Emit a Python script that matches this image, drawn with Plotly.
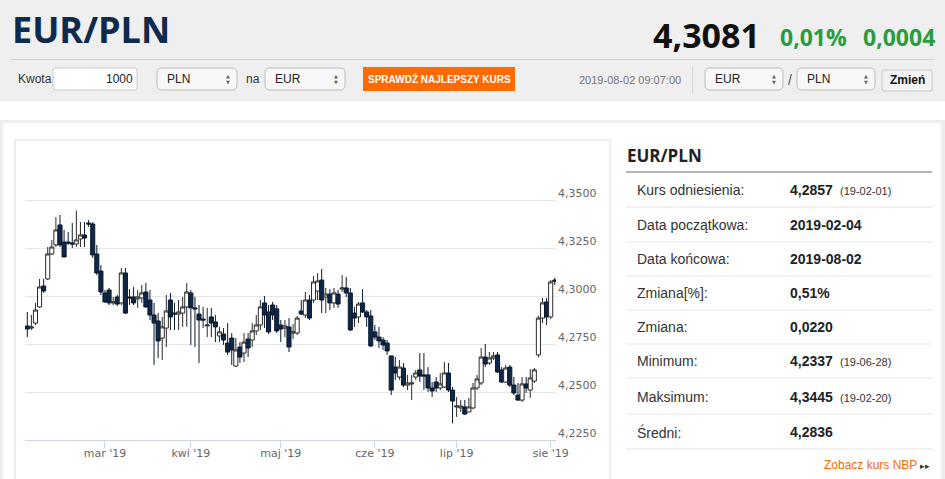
import pandas as pd
import plotly.graph_objects as go

# trading days on the chart: Mon-Fri from 2019-02-04 to 2019-08-02
dates = pd.bdate_range("2019-02-04", "2019-08-02").strftime("%Y-%m-%d").tolist()

open_ = [4.2844, 4.2833, 4.2859, 4.2943, 4.3052, 4.3089, 4.3219, 4.3266, 4.3370, 4.3281,
         4.3281, 4.3276, 4.3271, 4.3297, 4.3318, 4.3380, 4.3375, 4.3219, 4.3130, 4.3016,
         4.3031, 4.2964, 4.2995, 4.2964, 4.3120, 4.2995, 4.2995, 4.2985, 4.2990, 4.3021,
         4.2979, 4.2901, 4.2870, 4.2781, 4.2833, 4.2979, 4.2911, 4.2906, 4.2911, 4.2943,
         4.3016, 4.2938, 4.2906, 4.2880, 4.2844, 4.2891, 4.2865, 4.2792, 4.2802, 4.2755,
         4.2781, 4.2635, 4.2734, 4.2703, 4.2776, 4.2771, 4.2818, 4.2849, 4.2964, 4.2917,
         4.2953, 4.2933, 4.2849, 4.2833, 4.2839, 4.2807, 4.2807, 4.2922, 4.2901, 4.2979,
         4.2979, 4.3026, 4.3083, 4.2995, 4.3010, 4.2964, 4.3010, 4.3036, 4.3042, 4.3016,
         4.2911, 4.2891, 4.2964, 4.2917, 4.2896, 4.2813, 4.2786, 4.2771, 4.2755, 4.2688,
         4.2630, 4.2578, 4.2625, 4.2536, 4.2542, 4.2578, 4.2615, 4.2589, 4.2589, 4.2521,
         4.2552, 4.2521, 4.2526, 4.2599, 4.2510, 4.2422, 4.2417, 4.2422, 4.2396, 4.2417,
         4.2521, 4.2547, 4.2682, 4.2651, 4.2677, 4.2693, 4.2615, 4.2552, 4.2630, 4.2536,
         4.2484, 4.2458, 4.2542, 4.2510, 4.2557, 4.2693, 4.2885, 4.2969, 4.2891, 4.3083]
high = [4.2917, 4.2901, 4.2964, 4.3089, 4.3089, 4.3255, 4.3292, 4.3411, 4.3422, 4.3344,
        4.3333, 4.3380, 4.3445, 4.3385, 4.3385, 4.3396, 4.3385, 4.3266, 4.3161, 4.3031,
        4.3042, 4.2995, 4.3005, 4.3146, 4.3146, 4.3036, 4.3047, 4.3031, 4.3057, 4.3068,
        4.3031, 4.2964, 4.2911, 4.2891, 4.3005, 4.3016, 4.2964, 4.2979, 4.2995, 4.3068,
        4.3031, 4.2995, 4.2953, 4.2943, 4.2938, 4.2938, 4.2901, 4.2839, 4.2833, 4.2859,
        4.2807, 4.2781, 4.2760, 4.2807, 4.2807, 4.2859, 4.2901, 4.2979, 4.3000, 4.2953,
        4.2969, 4.2953, 4.2875, 4.2875, 4.2885, 4.2854, 4.2896, 4.2979, 4.3021, 4.3005,
        4.3104, 4.3120, 4.3141, 4.3042, 4.3036, 4.3042, 4.3031, 4.3109, 4.3099, 4.3042,
        4.2943, 4.2969, 4.3036, 4.2927, 4.2927, 4.2849, 4.2839, 4.2786, 4.2771, 4.2688,
        4.2682, 4.2667, 4.2651, 4.2589, 4.2589, 4.2615, 4.2703, 4.2703, 4.2630, 4.2552,
        4.2578, 4.2599, 4.2656, 4.2651, 4.2526, 4.2474, 4.2458, 4.2458, 4.2469, 4.2547,
        4.2589, 4.2729, 4.2750, 4.2708, 4.2708, 4.2708, 4.2630, 4.2641, 4.2641, 4.2578,
        4.2547, 4.2578, 4.2578, 4.2620, 4.2625, 4.2896, 4.2990, 4.2990, 4.3083, 4.3094]
low = [4.2786, 4.2823, 4.2849, 4.2938, 4.3016, 4.3083, 4.3214, 4.3255, 4.3255, 4.3203,
       4.3266, 4.3250, 4.3255, 4.3255, 4.3255, 4.3360, 4.3198, 4.3109, 4.3005, 4.2964,
       4.2953, 4.2953, 4.2948, 4.2953, 4.2906, 4.2953, 4.2953, 4.2938, 4.2964, 4.2938,
       4.2875, 4.2641, 4.2677, 4.2667, 4.2734, 4.2823, 4.2823, 4.2823, 4.2839, 4.2839,
       4.2745, 4.2734, 4.2651, 4.2833, 4.2786, 4.2786, 4.2760, 4.2760, 4.2745, 4.2693,
       4.2641, 4.2630, 4.2651, 4.2656, 4.2682, 4.2734, 4.2797, 4.2823, 4.2833, 4.2802,
       4.2875, 4.2807, 4.2760, 4.2786, 4.2708, 4.2776, 4.2797, 4.2901, 4.2885, 4.2875,
       4.2964, 4.2979, 4.2911, 4.2911, 4.2927, 4.2938, 4.2938, 4.3021, 4.2995, 4.2818,
       4.2839, 4.2859, 4.2911, 4.2839, 4.2734, 4.2771, 4.2729, 4.2719, 4.2693, 4.2484,
       4.2563, 4.2563, 4.2526, 4.2510, 4.2458, 4.2563, 4.2552, 4.2510, 4.2500, 4.2474,
       4.2500, 4.2510, 4.2521, 4.2500, 4.2337, 4.2370, 4.2396, 4.2380, 4.2396, 4.2411,
       4.2510, 4.2536, 4.2630, 4.2641, 4.2667, 4.2599, 4.2547, 4.2547, 4.2526, 4.2484,
       4.2453, 4.2448, 4.2495, 4.2469, 4.2547, 4.2680, 4.2859, 4.2849, 4.2880, 4.3057]
close = [4.2828, 4.2839, 4.2927, 4.3047, 4.3026, 4.3219, 4.3255, 4.3344, 4.3266, 4.3203,
         4.3276, 4.3271, 4.3292, 4.3318, 4.3302, 4.3375, 4.3214, 4.3120, 4.3021, 4.2969,
         4.2964, 4.2969, 4.2958, 4.3120, 4.2911, 4.2990, 4.2964, 4.2995, 4.3016, 4.2943,
         4.2901, 4.2859, 4.2766, 4.2839, 4.2922, 4.2891, 4.2906, 4.2917, 4.2943, 4.3021,
         4.2938, 4.2933, 4.2875, 4.2875, 4.2849, 4.2859, 4.2839, 4.2813, 4.2771, 4.2708,
         4.2719, 4.2719, 4.2682, 4.2760, 4.2729, 4.2818, 4.2849, 4.2943, 4.2901, 4.2813,
         4.2901, 4.2818, 4.2828, 4.2844, 4.2734, 4.2813, 4.2885, 4.2906, 4.2979, 4.2885,
         4.3073, 4.3078, 4.2979, 4.3010, 4.2964, 4.3016, 4.2958, 4.3042, 4.3016, 4.2823,
         4.2885, 4.2958, 4.2917, 4.2891, 4.2740, 4.2786, 4.2766, 4.2745, 4.2714, 4.2510,
         4.2599, 4.2630, 4.2536, 4.2547, 4.2547, 4.2599, 4.2583, 4.2583, 4.2521, 4.2505,
         4.2521, 4.2542, 4.2599, 4.2510, 4.2453, 4.2427, 4.2427, 4.2385, 4.2422, 4.2521,
         4.2568, 4.2682, 4.2646, 4.2677, 4.2688, 4.2604, 4.2552, 4.2625, 4.2536, 4.2495,
         4.2458, 4.2542, 4.2521, 4.2573, 4.2615, 4.2885, 4.2964, 4.2891, 4.3073, 4.3077]

month_ticks = ["2019-03-01", "2019-04-01", "2019-05-01", "2019-06-03", "2019-07-01", "2019-08-01"]
month_labels = ["mar '19", "kwi '19", "maj '19", "cze '19", "lip '19", "sie '19"]
price_ticks = [4.225, 4.25, 4.275, 4.3, 4.325, 4.35, 4.375]

quote = "4,3081"
change_pct = "0,01%"
change_abs = "0,0004"
quote_time = "2019-08-02 09:07:00"

table_labels = ["Kurs odniesienia:", "Data początkowa:", "Data końcowa:", "Zmiana[%]:",
                "Zmiana:", "Minimum:", "Maksimum:", "Średni:"]
table_values = ["4,2857", "2019-02-04", "2019-08-02", "0,51%", "0,0220", "4,2337", "4,3445", "4,2836"]
table_dates = ["(19-02-01)", "", "", "", "", "(19-06-28)", "(19-02-20)", ""]

# page size and plot area in pixels
W, H = 945, 479
L, R, T, B = 25, 556, 152, 440


def fx(x):
    return (x - L) / (R - L)


def fy(y):
    return (B - y) / (B - T)


shapes = []
annotations = []


def box(x0, y0, x1, y1, fill, line=None, lw=1, r=0):
    if r:
        p = [(x0 + r, y0), (x1 - r, y0), (x1, y0), (x1, y0 + r), (x1, y1 - r), (x1, y1),
             (x1 - r, y1), (x0 + r, y1), (x0, y1), (x0, y1 - r), (x0, y0 + r), (x0, y0), (x0 + r, y0)]
        q = [(fx(a), fy(b)) for a, b in p]
        path = "M {0[0]},{0[1]} L {1[0]},{1[1]} Q {2[0]},{2[1]} {3[0]},{3[1]} L {4[0]},{4[1]} " \
               "Q {5[0]},{5[1]} {6[0]},{6[1]} L {7[0]},{7[1]} Q {8[0]},{8[1]} {9[0]},{9[1]} " \
               "L {10[0]},{10[1]} Q {11[0]},{11[1]} {12[0]},{12[1]} Z".format(*q)
        shapes.append(dict(type="path", xref="paper", yref="paper", path=path, fillcolor=fill,
                           line=dict(color=line or fill, width=lw if line else 0), layer="below"))
    else:
        shapes.append(dict(type="rect", xref="paper", yref="paper", x0=fx(x0), x1=fx(x1),
                           y0=fy(y1), y1=fy(y0), fillcolor=fill,
                           line=dict(color=line or fill, width=lw if line else 0), layer="below"))


def hline(x0, x1, y, color, lw=1):
    shapes.append(dict(type="line", xref="paper", yref="paper", x0=fx(x0), x1=fx(x1),
                       y0=fy(y), y1=fy(y), line=dict(color=color, width=lw), layer="below"))


def text(x, y, s, size=12, color="#333333", family="Liberation Sans", weight="normal", anchor="left"):
    annotations.append(dict(xref="paper", yref="paper", x=fx(x), y=fy(y), text=s, showarrow=False,
                            xanchor=anchor, yanchor="middle", borderpad=0,
                            font=dict(family=family, size=size, color=color, weight=weight)))


def select(x0, x1, label):
    box(x0, 68, x1, 90, "#f7f7f7", "#bdbdbd", 1, r=5)
    text(x0 + 9, 79, label, 12, "#222222")
    text(x1 - 9, 76, "▲", 5, "#666666", "DejaVu Sans", anchor="center")
    text(x1 - 9, 82, "▼", 5, "#666666", "DejaVu Sans", anchor="center")


# header band
box(0, 0, W, 101, "#efefef")
hline(10, 935, 59.5, "#d6d6d6")
text(11, 30, "EUR/PLN", 36, "#0e2a4d", "Open Sans", "bold")
text(761, 35, quote, 34, "#111111", "Open Sans", "bold", "right")
text(779, 37, change_pct, 23, "#2a9b3f", "Open Sans", "bold")
text(936, 37, change_abs, 23, "#2a9b3f", "Open Sans", "bold", "right")

text(17, 79, "Kwota", 12, "#333333")
box(53, 68, 137, 90, "#ffffff", "#c8c8c8", 1, r=2)
text(134, 79, "1000", 12, "#222222", anchor="right")
select(157, 237, "PLN")
text(245, 79, "na", 12, "#333333")
select(265, 345, "EUR")
box(363, 67, 515, 91, "#ff6a00")
text(439, 79, "SPRAWDŹ NAJLEPSZY KURS", 10, "#ffffff", weight="bold", anchor="center")
text(682, 80, quote_time, 11, "#777777", anchor="right")
shapes.append(dict(type="line", xref="paper", yref="paper", x0=fx(692.5), x1=fx(692.5),
                   y0=fy(67), y1=fy(93), line=dict(color="#d8d8d8", width=1), layer="below"))
select(705, 783, "EUR")
text(790, 80, "/", 14, "#555555", anchor="center")
select(797, 875, "PLN")
box(882, 70, 932, 91, "#f3f3f3", "#c8c8c8", 1, r=2)
text(907, 80, "Zmień", 12, "#111111", weight="bold", anchor="center")

# content panel and chart box
box(0, 120, W, 123, "#eeeeee")
box(0, 120, 3, H, "#eeeeee")
box(941, 120, W, H, "#eeeeee")
box(15, 140, 610, H + 5, "#ffffff", "#e8e8e8", 1.5)

# side table
text(626, 155, "EUR/PLN", 17, "#222222", "Open Sans", "bold")
hline(626, 932, 172, "#b5b5b5", 2)
row_y = [190, 225, 259, 293, 327, 361, 397, 432]
for ry, lab, val, dt in zip(row_y, table_labels, table_values, table_dates):
    text(636, ry, lab, 14, "#333333")
    text(789, ry, val, 14, "#222222", weight="bold")
    if dt:
        text(839, ry + 1, dt, 11, "#333333")
    hline(626, 932, ry + 17, "#eeeeee", 1.5)
text(931, 465, "Zobacz kurs NBP <span style='color:#333333;font-size:9px'>▸▸</span>", 12,
     "#ff6a00", anchor="right")

fig = go.Figure(go.Candlestick(
    x=dates, open=open_, high=high, low=low, close=close,
    increasing=dict(fillcolor="#ffffff", line=dict(color="#2b2b2b", width=1)),
    decreasing=dict(fillcolor="#0f2747", line=dict(color="#0b1a2e", width=1)),
    whiskerwidth=0, showlegend=False, hoverinfo="skip"))

ytext = [f"{v:.4f}".replace(".", ",") for v in price_ticks]
ytext[-1] = ""

fig.update_layout(
    width=W, height=H, margin=dict(l=L, r=W - R, t=T, b=H - B),
    paper_bgcolor="#ffffff", plot_bgcolor="rgba(0,0,0,0)", boxgap=0, boxgroupgap=0,
    shapes=shapes, annotations=annotations,
    xaxis=dict(type="category", range=[-0.56, 129.3], rangeslider=dict(visible=False),
               tickmode="array", tickvals=month_ticks, ticktext=month_labels,
               ticks="outside", ticklen=7, tickcolor="#ccd6eb", showline=True,
               linecolor="#ccd6eb", showgrid=False, fixedrange=True, ticklabelstandoff=-4,
               tickfont=dict(family="DejaVu Sans", size=11, color="#666666")),
    yaxis=dict(side="right", range=[4.225, 4.375], tickmode="array", tickvals=price_ticks,
               ticktext=ytext, showgrid=True, gridcolor="#e6e6e6", zeroline=False,
               ticklabelshift=-7, ticklabelstandoff=1, fixedrange=True,
               tickfont=dict(family="DejaVu Sans", size=11, color="#666666")),
)

# the page body has a default 8px margin; drop it so the figure sits at the window corner
fig.write_html("out.html", config={"displayModeBar": False},
               post_script="document.body.style.margin='0';")
